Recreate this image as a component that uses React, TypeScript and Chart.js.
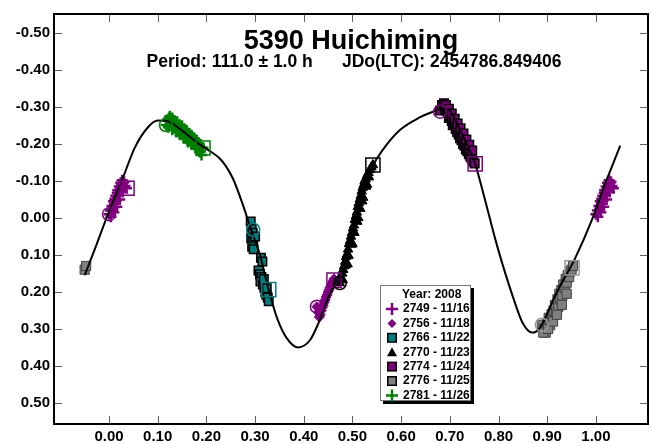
import React, { useEffect, useRef } from 'react';
import { Chart, registerables } from 'chart.js';

Chart.register(...registerables);

const TITLE = '5390 Huichiming';
const SUBTITLE = 'Period: 111.0 ± 1.0 h      JDo(LTC): 2454786.849406';
const LEGEND_TITLE = 'Year: 2008';

const xTicks = [0, 0.1, 0.2, 0.3, 0.4, 0.5, 0.6, 0.7, 0.8, 0.9, 1.0];
const yTicks = [-0.5, -0.4, -0.3, -0.2, -0.1, 0, 0.1, 0.2, 0.3, 0.4, 0.5];
const X_MIN = -0.113;
const X_MAX = 1.107;
const Y_MIN = -0.551;
const Y_MAX = 0.557;

// Fourier fit curve
const curveX = [-0.05, -0.025, -0.008, 0.01, 0.029, 0.053, 0.08, 0.1, 0.119, 0.146, 0.17, 0.193, 0.21, 0.228, 0.24, 0.255, 0.275, 0.29, 0.31, 0.327, 0.345, 0.365, 0.388, 0.413, 0.43, 0.448, 0.47, 0.495, 0.52, 0.542, 0.563, 0.598, 0.639, 0.669, 0.686, 0.7, 0.72, 0.751, 0.768, 0.797, 0.83, 0.85, 0.869, 0.885, 0.92, 0.957, 0.992, 1.014, 1.05];
const curveY = [0.155, 0.07, 0.01, -0.05, -0.11, -0.19, -0.245, -0.263, -0.262, -0.24, -0.215, -0.192, -0.178, -0.16, -0.14, -0.105, -0.035, 0.025, 0.1, 0.19, 0.27, 0.325, 0.35, 0.33, 0.285, 0.222, 0.16, 0.06, -0.05, -0.14, -0.185, -0.238, -0.272, -0.289, -0.296, -0.29, -0.24, -0.15, -0.07, 0.075, 0.215, 0.285, 0.31, 0.297, 0.2, 0.11, 0.005, -0.075, -0.195];

const sessions = ['2749 - 11/16', '2756 - 11/18', '2766 - 11/22', '2770 - 11/23', '2774 - 11/24', '2776 - 11/25', '2781 - 11/26'];

const s2749X = [0.0, 0.003, 0.004, 0.006, 0.008, 0.009, 0.011, 0.012, 0.014, 0.015, 0.017, 0.018, 0.02, 0.021, 0.023, 0.024, 0.026, 0.027, 0.029, 0.031, 0.033, 0.036, 0.01, 0.016, 0.022, 0.028];
const s2749Y = [-0.01, -0.02, -0.003, -0.032, -0.025, -0.045, -0.038, -0.052, -0.06, -0.048, -0.068, -0.075, -0.062, -0.085, -0.078, -0.095, -0.088, -0.102, -0.094, -0.098, -0.086, -0.08, -0.015, -0.03, -0.05, -0.07];

const s2756X = [0.427, 0.43, 0.432, 0.434, 0.436, 0.438, 0.44, 0.442, 0.444, 0.446, 0.448, 0.45, 0.452, 0.454, 0.456, 0.458, 0.46, 0.462];
const s2756Y = [0.24, 0.255, 0.268, 0.262, 0.25, 0.242, 0.236, 0.228, 0.222, 0.214, 0.208, 0.2, 0.194, 0.188, 0.182, 0.176, 0.17, 0.165];

const s2766X = [0.291, 0.293, 0.295, 0.292, 0.296, 0.294, 0.297, 0.312, 0.315, 0.307, 0.31, 0.313, 0.311, 0.316, 0.319, 0.321, 0.323, 0.326, 0.328, 0.3, 0.318, 0.324];
const s2766Y = [0.01, 0.03, 0.04, 0.055, 0.062, 0.078, 0.085, 0.108, 0.118, 0.142, 0.152, 0.16, 0.172, 0.18, 0.188, 0.2, 0.208, 0.215, 0.225, 0.05, 0.165, 0.19];

const s2770X = [0.474, 0.477, 0.479, 0.481, 0.483, 0.485, 0.487, 0.489, 0.491, 0.493, 0.495, 0.497, 0.499, 0.501, 0.503, 0.505, 0.507, 0.509, 0.511, 0.513, 0.515, 0.517, 0.519, 0.521, 0.523, 0.525, 0.527, 0.53, 0.533, 0.536, 0.539, 0.542, 0.486, 0.492, 0.498, 0.504, 0.51, 0.516, 0.522, 0.528, 0.534, 0.48, 0.49, 0.5, 0.512, 0.52, 0.53];
const s2770Y = [0.176, 0.165, 0.15, 0.14, 0.13, 0.118, 0.105, 0.098, 0.085, 0.07, 0.062, 0.05, 0.04, 0.028, 0.02, 0.005, -0.005, -0.015, -0.03, -0.04, -0.05, -0.06, -0.072, -0.082, -0.09, -0.1, -0.105, -0.115, -0.122, -0.13, -0.137, -0.143, 0.128, 0.102, 0.072, 0.04, 0.01, -0.025, -0.055, -0.085, -0.11, 0.168, 0.125, 0.07, 0.0, -0.045, -0.09];

const s2774X = [0.68, 0.684, 0.688, 0.69, 0.693, 0.696, 0.698, 0.701, 0.704, 0.706, 0.709, 0.712, 0.715, 0.718, 0.721, 0.724, 0.727, 0.73, 0.733, 0.736, 0.739, 0.742, 0.745, 0.748, 0.751, 0.692, 0.698, 0.704, 0.71, 0.716, 0.722, 0.728, 0.734, 0.74, 0.746];
const s2774Y = [-0.29, -0.305, -0.31, -0.295, -0.29, -0.285, -0.27, -0.275, -0.262, -0.25, -0.255, -0.24, -0.232, -0.225, -0.215, -0.21, -0.2, -0.195, -0.185, -0.18, -0.172, -0.165, -0.16, -0.152, -0.147, -0.305, -0.295, -0.282, -0.268, -0.255, -0.242, -0.228, -0.212, -0.198, -0.182];

const s2776X = [0.889, 0.893, 0.897, 0.9, 0.903, 0.906, 0.909, 0.911, 0.913, 0.916, 0.918, 0.921, 0.923, 0.925, 0.927, 0.929, 0.931, 0.933, 0.936, 0.938, 0.94, 0.942, 0.945, 0.947, 0.95, 0.953, 0.892, 0.902, 0.912, 0.92, 0.93, 0.94];
const s2776Y = [0.289, 0.3, 0.31, 0.285, 0.27, 0.29, 0.26, 0.275, 0.25, 0.235, 0.255, 0.22, 0.24, 0.205, 0.22, 0.195, 0.21, 0.18, 0.19, 0.165, 0.175, 0.155, 0.16, 0.145, 0.14, 0.13, 0.31, 0.3, 0.28, 0.262, 0.235, 0.205];

const s2781X = [0.117, 0.12, 0.123, 0.126, 0.128, 0.131, 0.133, 0.136, 0.138, 0.141, 0.143, 0.146, 0.148, 0.151, 0.153, 0.156, 0.158, 0.161, 0.163, 0.166, 0.168, 0.171, 0.173, 0.176, 0.178, 0.181, 0.183, 0.186, 0.188, 0.191, 0.193, 0.19, 0.125, 0.13, 0.135, 0.14, 0.145, 0.15, 0.155, 0.16, 0.165, 0.17, 0.175, 0.18, 0.185, 0.122, 0.13, 0.138, 0.146, 0.154, 0.162, 0.17, 0.178, 0.186];
const s2781Y = [-0.251, -0.265, -0.27, -0.258, -0.265, -0.25, -0.258, -0.245, -0.252, -0.24, -0.232, -0.245, -0.228, -0.235, -0.222, -0.23, -0.215, -0.222, -0.21, -0.218, -0.205, -0.212, -0.198, -0.205, -0.192, -0.2, -0.186, -0.195, -0.18, -0.19, -0.189, -0.17, -0.275, -0.27, -0.262, -0.26, -0.252, -0.248, -0.24, -0.235, -0.228, -0.222, -0.215, -0.21, -0.2, -0.245, -0.238, -0.232, -0.225, -0.215, -0.205, -0.198, -0.188, -0.178];

// first / last observation markers per session
const startX = [0.0, 0.427, 0.296, 0.474, 0.68, 0.889, 0.117];
const startY = [-0.01, 0.24, 0.032, 0.176, -0.287, 0.289, -0.251];
const endX = [0.037, 0.462, 0.328, 0.542, 0.752, 0.951, 0.193];
const endY = [-0.08, 0.168, 0.194, -0.143, -0.146, 0.135, -0.189];

const PURPLE = '#800080';
const TEAL = '#008080';
const GREEN = '#008000';
const GREY = '#808080';

const seriesX = [s2749X, s2756X, s2766X, s2770X, s2774X, s2776X, s2781X];
const seriesY = [s2749Y, s2756Y, s2766Y, s2770Y, s2774Y, s2776Y, s2781Y];
const styles = [
  { pointStyle: 'cross', radius: 5.5, bg: PURPLE, border: PURPLE, bw: 2.5 },
  { pointStyle: 'rectRot', radius: 5, bg: PURPLE, border: PURPLE, bw: 1 },
  { pointStyle: 'rect', radius: 6, bg: TEAL, border: '#000', bw: 1.5 },
  { pointStyle: 'triangle', radius: 5.5, bg: '#000', border: '#000', bw: 1 },
  { pointStyle: 'rect', radius: 6, bg: PURPLE, border: '#000', bw: 1.5 },
  { pointStyle: 'rect', radius: 6.5, bg: GREY, border: '#404040', bw: 1 },
  { pointStyle: 'cross', radius: 5.5, bg: GREEN, border: GREEN, bw: 2.5 },
];
const markColors = [PURPLE, PURPLE, TEAL, '#000', PURPLE, '#9a9a9a', GREEN];

const FONT = '"Liberation Sans", Arial, sans-serif';

function pts(xs: number[], ys: number[]) {
  return xs.map((x, i) => ({ x, y: ys[i] }));
}

function drawLegendMarker(ctx: CanvasRenderingContext2D, i: number, cx: number, cy: number) {
  ctx.save();
  if (i === 0 || i === 6) {
    ctx.strokeStyle = i === 0 ? PURPLE : GREEN;
    ctx.lineWidth = 2.5;
    ctx.beginPath();
    ctx.moveTo(cx - 6, cy); ctx.lineTo(cx + 6, cy);
    ctx.moveTo(cx, cy - 6); ctx.lineTo(cx, cy + 6);
    ctx.stroke();
  } else if (i === 1) {
    ctx.fillStyle = PURPLE;
    ctx.beginPath();
    ctx.moveTo(cx, cy - 4.5); ctx.lineTo(cx + 4.5, cy); ctx.lineTo(cx, cy + 4.5); ctx.lineTo(cx - 4.5, cy);
    ctx.closePath(); ctx.fill();
  } else if (i === 3) {
    ctx.fillStyle = '#000';
    ctx.beginPath();
    ctx.moveTo(cx, cy - 5); ctx.lineTo(cx + 5, cy + 4); ctx.lineTo(cx - 5, cy + 4);
    ctx.closePath(); ctx.fill();
  } else {
    const fill = i === 2 ? TEAL : i === 4 ? PURPLE : GREY;
    ctx.fillStyle = '#000';
    ctx.fillRect(cx - 5, cy - 5, 10, 10);
    ctx.fillStyle = fill;
    ctx.fillRect(cx - 3.5, cy - 3.5, 7, 7);
  }
  ctx.restore();
}

const decorPlugin = {
  id: 'decor',
  afterDraw(chart: any) {
    const { ctx, chartArea: a, scales } = chart;
    ctx.save();
    // inward ticks
    ctx.strokeStyle = '#606060';
    ctx.lineWidth = 1;
    ctx.beginPath();
    scales.x.ticks.forEach((t: any) => {
      const px = Math.round(scales.x.getPixelForValue(t.value)) + 0.5;
      ctx.moveTo(px, a.bottom); ctx.lineTo(px, a.bottom - 8);
      ctx.moveTo(px, a.top); ctx.lineTo(px, a.top + 8);
    });
    scales.y.ticks.forEach((t: any) => {
      const py = Math.round(scales.y.getPixelForValue(t.value)) + 0.5;
      ctx.moveTo(a.left, py); ctx.lineTo(a.left + 8, py);
      ctx.moveTo(a.right, py); ctx.lineTo(a.right - 8, py);
    });
    ctx.stroke();
    // frame
    ctx.strokeStyle = '#000';
    ctx.lineWidth = 2;
    ctx.strokeRect(a.left, a.top, a.right - a.left, a.bottom - a.top);

    // titles
    const cx = (a.left + a.right) / 2;
    ctx.fillStyle = '#000';
    ctx.textAlign = 'center';
    ctx.textBaseline = 'alphabetic';
    ctx.font = `bold 27px ${FONT}`;
    ctx.fillText(TITLE, cx, a.top + 35);
    ctx.font = `bold 17.5px ${FONT}`;
    ctx.fillText(SUBTITLE, cx + 3, a.top + 53);

    // legend
    const lx = a.left + 326;
    const ly = a.top + 271;
    const lw = 91;
    const lh = 116;
    ctx.fillStyle = '#000';
    ctx.fillRect(lx + 3, ly + 3, lw, lh);
    ctx.fillStyle = '#fff';
    ctx.fillRect(lx, ly, lw, lh);
    ctx.strokeStyle = '#777';
    ctx.lineWidth = 1;
    ctx.strokeRect(lx + 0.5, ly + 0.5, lw - 1, lh - 1);
    ctx.textAlign = 'left';
    ctx.textBaseline = 'middle';
    ctx.font = `bold 12px ${FONT}`;
    ctx.fillStyle = '#000';
    ctx.fillText(LEGEND_TITLE, lx + 22, ly + 10);
    sessions.forEach((s, i) => {
      const yy = ly + 24 + i * 14.4;
      drawLegendMarker(ctx, i, lx + 12, yy);
      ctx.fillStyle = '#000';
      ctx.fillText(s, lx + 23, yy);
    });
    ctx.restore();
  },
};

export default function App() {
  const ref = useRef<HTMLCanvasElement>(null);
  useEffect(() => {
    if (!ref.current) return;
    const datasets: any[] = [];
    // start circles and end squares (drawn on top)
    datasets.push({
      label: 'start',
      data: pts(startX, startY),
      pointStyle: 'circle',
      pointRadius: 6.5,
      pointBackgroundColor: 'rgba(0,0,0,0)',
      pointBorderColor: markColors,
      pointBorderWidth: 1.5,
      showLine: false,
    });
    datasets.push({
      label: 'end',
      data: pts(endX, endY),
      pointStyle: 'rect',
      pointRadius: 10,
      pointBackgroundColor: 'rgba(0,0,0,0)',
      pointBorderColor: markColors,
      pointBorderWidth: 1.5,
      showLine: false,
    });
    datasets.push({
      label: 'fit',
      data: pts(curveX, curveY),
      showLine: true,
      borderColor: '#000',
      borderWidth: 2,
      pointRadius: 0,
      cubicInterpolationMode: 'monotone',
      fill: false,
    });
    seriesX.forEach((xs, i) => {
      const st = styles[i];
      const data = pts(xs, seriesY[i]);
      // phase-wrapped copies of the points
      const wrapped = i === 0 ? data.map((p) => ({ x: p.x + 1, y: p.y })) : i === 5 ? data.filter((p) => p.x >= 0.95).map((p) => ({ x: p.x - 1, y: p.y })) : [];
      datasets.push({
        label: sessions[i],
        data: data.concat(wrapped),
        pointStyle: st.pointStyle,
        pointRadius: st.radius,
        pointBackgroundColor: st.bg,
        pointBorderColor: st.border,
        pointBorderWidth: st.bw,
        showLine: false,
      });
    });

    const chart = new Chart(ref.current, {
      type: 'scatter',
      data: { datasets },
      options: {
        animation: false,
        responsive: false,
        devicePixelRatio: 1,
        layout: { autoPadding: false, padding: { top: 14, right: 4, left: 0, bottom: 0 } },
        plugins: { legend: { display: false }, tooltip: { enabled: false } },
        font: { family: FONT },
        scales: {
          x: {
            type: 'linear',
            min: X_MIN,
            max: X_MAX,
            grid: { display: false, drawTicks: false },
            border: { display: false },
            afterBuildTicks: (s: any) => { s.ticks = xTicks.map((v) => ({ value: v })); },
            afterFit: (s: any) => { s.height = 19; s.paddingLeft = 0; s.paddingRight = 0; },
            ticks: {
              padding: 4,
              color: '#000',
              font: { family: FONT, size: 15, weight: 'bold' },
              callback: (v: any) => Number(v).toFixed(2),
              maxRotation: 0,
              autoSkip: false,
            },
          },
          y: {
            type: 'linear',
            reverse: true,
            min: Y_MIN,
            max: Y_MAX,
            grid: { display: false, drawTicks: false },
            border: { display: false },
            afterBuildTicks: (s: any) => { s.ticks = yTicks.map((v) => ({ value: v })); },
            afterFit: (s: any) => { s.width = 54; s.paddingTop = 0; s.paddingBottom = 0; },
            ticks: {
              padding: 4,
              color: '#000',
              font: { family: FONT, size: 15, weight: 'bold' },
              callback: (v: any) => (Math.abs(v) < 1e-9 ? '0.00' : Number(v).toFixed(2)),
              autoSkip: false,
            },
          },
        },
      } as any,
      plugins: [decorPlugin],
    });
    return () => chart.destroy();
  }, []);
  return (
    <div style={{ position: 'fixed', left: 0, top: 0, width: 652, height: 443, background: '#fff' }}>
      <canvas ref={ref} width={652} height={443} style={{ display: 'block' }} />
    </div>
  );
}
